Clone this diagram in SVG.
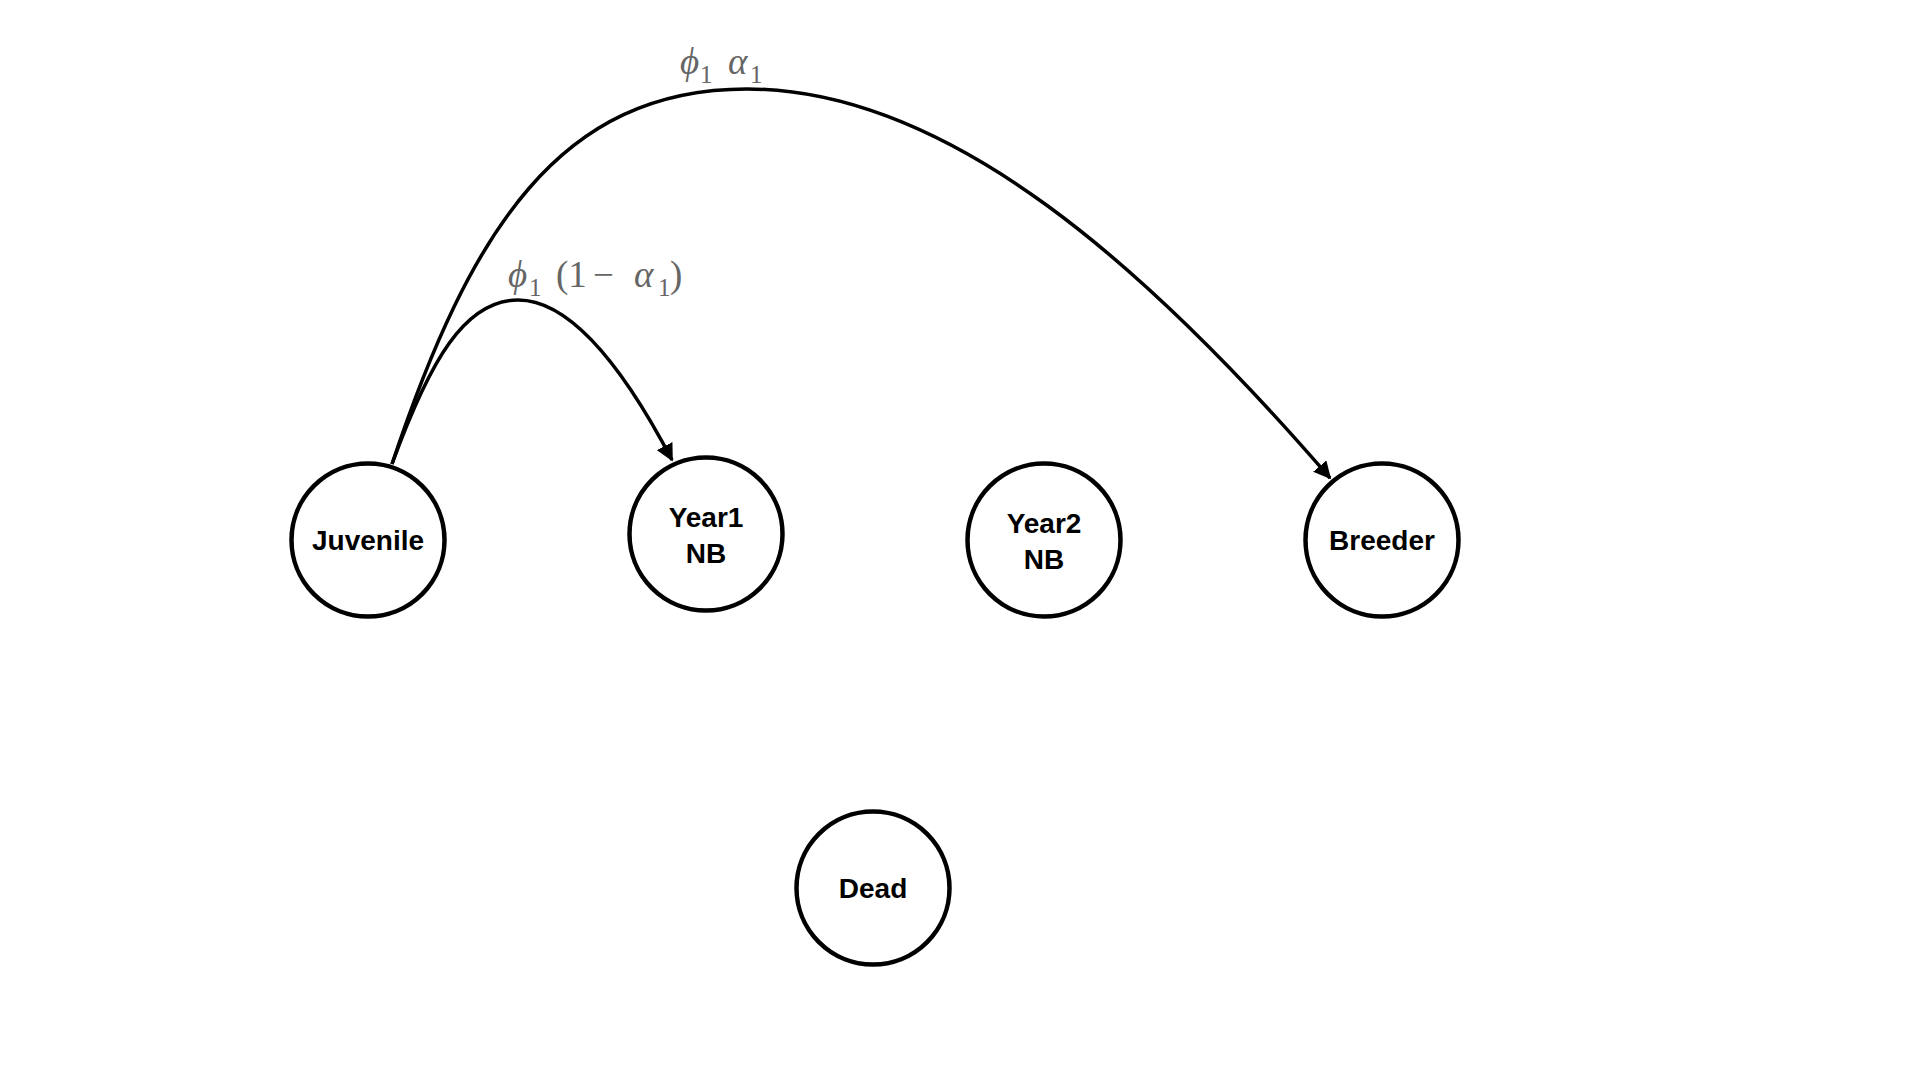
<svg xmlns="http://www.w3.org/2000/svg" width="1920" height="1080" viewBox="0 0 1920 1080">
<style>
.node circle{fill:#fff;stroke:#000;stroke-width:4.5}
.node text{font-family:"Liberation Sans",Arial,sans-serif;font-weight:bold;font-size:28px;fill:#000;text-anchor:middle}
.edge{fill:none;stroke:#000;stroke-width:3.5}
.lbl{font-family:"Liberation Serif","Times New Roman",serif;font-size:37px;fill:#666}
.it{font-style:italic}
.sub{font-size:25px}
</style>
<defs>
<marker id="arr" viewBox="0 0 10 10" refX="9" refY="5" markerWidth="5" markerHeight="5" markerUnits="strokeWidth" orient="auto">
<path d="M0,0 L10,5 L0,10 z" fill="#000"/>
</marker>
</defs>
<rect width="1920" height="1080" fill="#fff"/>
<g id="connectors">
<path class="edge" d="M392,464 C470,230 560,89 747,89 C950,89 1150,270 1330,478" marker-end="url(#arr)"/>
<path class="edge" d="M392,464 C430,360 465,300 518,300 C575,300 630,380 672,460" marker-end="url(#arr)"/>
</g>
<g id="labels">
<text class="lbl" y="74"><tspan x="680" class="it">ϕ</tspan><tspan class="sub" x="700" dy="9">1</tspan><tspan class="it" x="728" dy="-9">α</tspan><tspan class="sub" x="750" dy="9">1</tspan></text>
<text class="lbl" y="287"><tspan x="508" class="it">ϕ</tspan><tspan class="sub" x="529" dy="9">1</tspan><tspan x="556" dy="-9">(1</tspan><tspan x="593">−</tspan><tspan class="it" x="634">α</tspan><tspan class="sub" x="658" dy="9">1</tspan><tspan x="670" dy="-9">)</tspan></text>
</g>
<g id="juvenile" class="node"><circle cx="368" cy="540" r="76.5"/><text x="368" y="550">Juvenile</text></g>
<g id="year1" class="node"><circle cx="706" cy="534" r="76.5"/><text x="706" y="527">Year1</text><text x="706" y="563">NB</text></g>
<g id="year2" class="node"><circle cx="1044" cy="540" r="76.5"/><text x="1044" y="533">Year2</text><text x="1044" y="569">NB</text></g>
<g id="breeder" class="node"><circle cx="1382" cy="540" r="76.5"/><text x="1382" y="550">Breeder</text></g>
<g id="dead" class="node"><circle cx="873" cy="888" r="76.5"/><text x="873" y="898">Dead</text></g>
</svg>
